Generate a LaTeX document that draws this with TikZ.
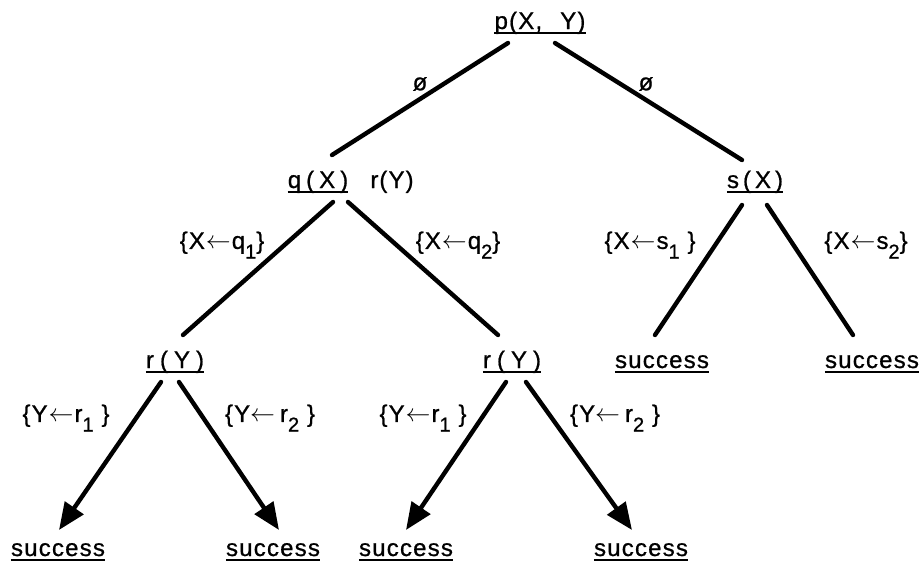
\documentclass[tikz,border=0pt]{standalone}
\usepackage{fontspec}
\setmainfont[FakeBold=0.8,LetterSpace=5]{Liberation Sans}
\usetikzlibrary{arrows.meta}
\newcommand\lowsub[1]{\raisebox{-0.4em}{\fontsize{20}{22}\selectfont #1}}
\newcommand\arrowsym{$\leftarrow$}
\newcommand\la{\kern1pt\arrowsym\kern1pt}
\newcommand\gap[1]{\kern#1pt}
\begin{document}
\begin{tikzpicture}[x=1pt,y=-1pt,
  lbl/.style={font=\fontsize{24}{28}\selectfont, inner sep=0pt, anchor=base},
  term/.style={lbl},
  uline/.style={line width=2.2pt},
  edge/.style={line width=4.4pt, line cap=round},
  arr/.style={edge, -{Triangle[length=27pt,width=22pt]}}]
\useasboundingbox (0,0) rectangle (921,566);
% terms
\node[term] (p) at (540,29) {p(X,\hspace{18pt}Y)};
\node[term] (q) at (318,188) {q\gap5(\gap5X\gap5)};
\node[lbl]  (ry) at (392,188) {r\gap1(Y\gap1)};
\node[term] (s) at (755,188) {s\gap4(\gap4X\gap4)};
\node[term] (r1) at (175,368) {r\gap6(\gap6Y\gap6)};
\node[term] (r2) at (512,368) {r\gap6(\gap6Y\gap6)};
\node[term] (sa) at (662,368) {success};
\node[term] (sb) at (872,368) {success};
\node[term] (b1) at (58,556) {success};
\node[term] (b2) at (273,556) {success};
\node[term] (b3) at (406,556) {success};
\node[term] (b4) at (641,556) {success};
% underlines
\foreach \n in {p,q,s,r1,r2,sa,sb,b1,b2,b3,b4}
  \draw[uline] ([yshift=-4pt]\n.base west) -- ([yshift=-4pt]\n.base east);
% edges
\draw[edge] ([xshift=-32pt,yshift=-14pt]p.base) -- ([xshift=14pt,yshift=33pt]q.base);
\draw[edge] ([xshift=15pt,yshift=-14pt]p.base) -- ([xshift=-13pt,yshift=28pt]s.base);
\draw[edge] ([xshift=15pt,yshift=-14pt]q.base) -- ([xshift=8pt,yshift=33pt]r1.base);
\draw[edge] ([xshift=30pt,yshift=-14pt]q.base) -- ([xshift=-14pt,yshift=33pt]r2.base);
\draw[edge] ([xshift=-13pt,yshift=-17pt]s.base) -- ([xshift=-7pt,yshift=33pt]sa.base);
\draw[edge] ([xshift=12pt,yshift=-17pt]s.base) -- ([xshift=-19pt,yshift=33pt]sb.base);
\draw[arr] ([xshift=-14pt,yshift=-14pt]r1.base) -- ([xshift=1pt,yshift=26pt]b1.base);
\draw[arr] ([xshift=4pt,yshift=-14pt]r1.base) -- ([xshift=6pt,yshift=26pt]b2.base);
\draw[arr] ([xshift=-6pt,yshift=-14pt]r2.base) -- ([xshift=0pt,yshift=26pt]b3.base);
\draw[arr] ([xshift=14pt,yshift=-14pt]r2.base) -- ([xshift=-9pt,yshift=26pt]b4.base);
% edge labels
\node[lbl,anchor=center] (e1) at (420,84) {ø};
\node[lbl,anchor=center] (e2) at (646,84) {ø};
\node[lbl,anchor=center] (e3) at (222,245) {\{X\la q\lowsub{1}\}};
\node[lbl,anchor=center] (e4) at (458,245) {\{X\la q\lowsub{2}\}};
\node[lbl,anchor=center] (e5) at (650,245) {\{X\la s\lowsub{1} \}};
\node[lbl,anchor=center] (e6) at (866,245) {\{X\la s\lowsub{2}\}};
\node[lbl,anchor=center] (e7) at (66,418) {\{Y\la r\lowsub{1} \}};
\node[lbl,anchor=center] (e8) at (270,418) {\{Y\arrowsym\kern5pt r\lowsub{2} \}};
\node[lbl,anchor=center] (e9) at (423,418) {\{Y\la r\lowsub{1} \}};
\node[lbl,anchor=center] (e10) at (615,418) {\{Y\arrowsym\kern5pt r\lowsub{2} \}};
\end{tikzpicture}
\end{document}
